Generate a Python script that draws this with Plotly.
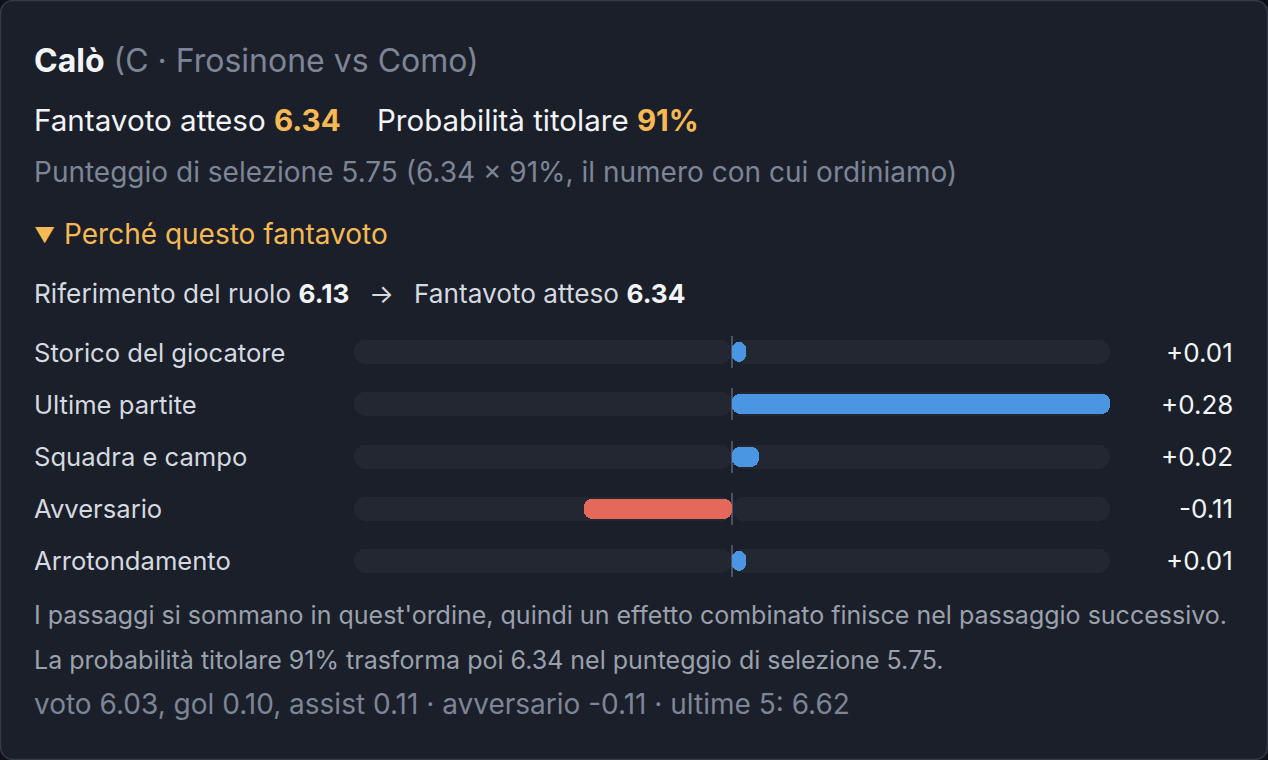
import plotly.graph_objects as go

# ---------------- data ----------------
player_name = "Calò"
player_info = "(C · Frosinone vs Como)"
expected_score = 6.34
start_probability = 91
selection_score = 5.75
role_reference = 6.13
categories = ["Storico del giocatore", "Ultime partite", "Squadra e campo",
              "Avversario", "Arrotondamento"]
contributions = [0.01, 0.28, 0.02, -0.11, 0.01]
scale_max = 0.28
detail_line = "voto 6.03, gol 0.10, assist 0.11 · avversario -0.11 · ultime 5: 6.62"

# ---------------- style ----------------
W, H = 1268, 760
FONT = "Inter"
OUTER_BG = "#0d1016"
CARD_BG = "#1b1f29"
CARD_BORDER = "#343a46"
TRACK = "#222732"
CENTER = "#4b5263"
BLUE = "#4a96e3"
RED = "#e5695b"
WHITE = "#f2f4f7"
LIGHT = "#d5d9e0"
GRAY = "#7d8597"
GRAY2 = "#9aa1ad"
AMBER = "#f7b955"


def px(x):
    return x / W


def py(y):
    return 1 - y / H


row_top, row_bottom = 325.9, 587.1
row_px = (row_bottom - row_top) / len(categories)
n = len(categories)
ypos = list(range(n))

fig = go.Figure()

# background tracks (both halves, rounded outer ends)
for sign in (1, -1):
    fig.add_trace(go.Bar(
        y=ypos, x=[sign * scale_max] * n, base=0, orientation="h",
        width=24 / row_px, marker=dict(color=TRACK, cornerradius=12, line=dict(width=0)),
        hoverinfo="skip", showlegend=False))

# centre line
fig.add_trace(go.Bar(
    y=ypos, x=[0.0015] * n, base=-0.00075, orientation="h",
    width=32 / row_px, marker=dict(color=CENTER, line=dict(width=0)),
    hoverinfo="skip", showlegend=False))

# contribution bars
fig.add_trace(go.Bar(
    y=ypos, x=contributions, base=0, orientation="h",
    width=20 / row_px,
    marker=dict(color=[BLUE if v >= 0 else RED for v in contributions],
                cornerradius=8, line=dict(width=0)),
    hoverinfo="skip", showlegend=False))

ann = []
DX = 2  # annotation inner padding


def text(x, y, s, size, color, anchor="left", yref="paper"):
    xx = x - DX if anchor == "left" else (x + DX if anchor == "right" else x)
    ann.append(dict(x=px(xx), y=(py(y) if yref == "paper" else y), xref="paper", yref=yref,
                    text=s, showarrow=False, xanchor=anchor, yanchor="middle",
                    font=dict(family=FONT, size=size, color=color)))


text(34, 61, f"<b>{player_name}</b> <span style='color:{GRAY}'>{player_info}</span>", 32, WHITE)
text(34, 120, f"Fantavoto atteso <b><span style='color:{AMBER}'>{expected_score:.2f}</span></b>", 29.6, WHITE)
text(377, 120, f"Probabilità titolare <b><span style='color:{AMBER}'>{start_probability}%</span></b>", 29.5, WHITE)
text(34, 172, f"Punteggio di selezione {selection_score:.2f} ({expected_score:.2f} × {start_probability}%, il numero con cui ordiniamo)", 28, GRAY)
text(34, 235, "▼", 21, AMBER)
text(64, 234, "Perché questo fantavoto", 28, AMBER)
text(34, 293, f"Riferimento del ruolo <b><span style='color:{WHITE}'>{role_reference:.2f}</span></b>", 26.2, LIGHT)
text(381, 293, "→", 26.2, LIGHT, anchor="center")
text(414, 293, f"Fantavoto atteso <b><span style='color:{WHITE}'>{expected_score:.2f}</span></b>", 26.2, LIGHT)

for i, (c, v) in enumerate(zip(categories, contributions)):
    text(34, i, c, 25.6, LIGHT, yref="y")
    text(1233, i, f"{v:+.2f}", 26, WHITE, anchor="right", yref="y")

text(34, 615, "I passaggi si sommano in quest'ordine, quindi un effetto combinato finisce nel passaggio successivo.", 25, GRAY2)
text(34, 660, f"La probabilità titolare {start_probability}% trasforma poi {expected_score:.2f} nel punteggio di selezione {selection_score:.2f}.", 25, GRAY2)
text(34, 704, detail_line, 28, GRAY)

# card shape (rounded rectangle in paper coords)
x0, y0, x1, y1, r = 0.5, 0.5, W - 0.5, H - 0.5, 14
def P(x, y):
    return f"{px(x):.6f},{py(y):.6f}"
card_path = (f"M {P(x0 + r, y0)} L {P(x1 - r, y0)} Q {P(x1, y0)} {P(x1, y0 + r)} "
             f"L {P(x1, y1 - r)} Q {P(x1, y1)} {P(x1 - r, y1)} L {P(x0 + r, y1)} "
             f"Q {P(x0, y1)} {P(x0, y1 - r)} L {P(x0, y0 + r)} Q {P(x0, y0)} {P(x0 + r, y0)} Z")

fig.update_layout(
    width=W, height=H, margin=dict(l=0, r=0, t=0, b=0),
    paper_bgcolor=OUTER_BG, plot_bgcolor="rgba(0,0,0,0)",
    barmode="overlay", bargap=0,
    showlegend=False,
    annotations=ann,
    shapes=[dict(type="path", path=card_path, xref="paper", yref="paper",
                 fillcolor=CARD_BG, line=dict(color=CARD_BORDER, width=1.5), layer="below")],
    xaxis=dict(domain=[px(354), px(1110)], range=[-scale_max, scale_max], visible=False,
               fixedrange=True),
    yaxis=dict(domain=[py(row_bottom), py(row_top)], range=[n - 0.5, -0.5], visible=False,
               fixedrange=True),
)

fig.write_html("out.html", config={"displayModeBar": False},
               post_script="document.body.style.margin='0';")
